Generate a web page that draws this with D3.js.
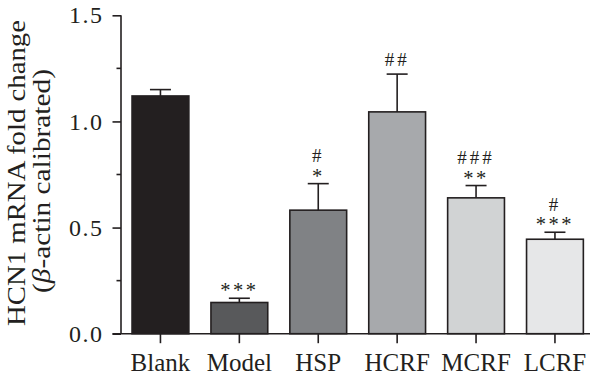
<!DOCTYPE html>
<html>
<head>
<meta charset="utf-8">
<script src="https://cdn.jsdelivr.net/npm/d3@7"></script>
<style>
  html, body { margin: 0; padding: 0; background: #fff; }
  svg { display: block; }
  text { font-family: "Liberation Serif", "Times New Roman", serif; fill: #231f20; }
</style>
</head>
<body>
<svg id="chart" width="600" height="384"></svg>
<script>
// ---- data ----
const categories = ["Blank", "Model", "HSP", "HCRF", "MCRF", "LCRF"];
const means      = [1.12, 0.147, 0.582, 1.045, 0.640, 0.445];
const errors     = [0.030, 0.020, 0.125, 0.178, 0.058, 0.033];
const stars      = ["", "***", "*", "", "**", "***"];
const hashes     = ["", "", "#", "##", "###", "#"];
const barColors  = ["#231f20", "#58595b", "#808285", "#a7a9ac", "#d1d3d4", "#e6e7e8"];
const yTicks     = [0, 0.5, 1.0, 1.5];
const yMinorTicks = [0.25, 0.75, 1.25];
const yLabel1 = "HCN1 mRNA fold change";

const svg = d3.select("#chart");
const ink = "#231f20";

const x = d3.scaleBand().domain(categories).range([121, 594.4]).paddingInner(0.28).paddingOuter(0.14);
const y = d3.scaleLinear().domain([0, 1.5]).range([333.7, 15.3]);
const cx = c => x(c) + x.bandwidth() / 2;

// bars
svg.append("g").selectAll("rect").data(categories).join("rect")
  .attr("x", d => x(d))
  .attr("y", (d, i) => y(means[i]))
  .attr("width", x.bandwidth())
  .attr("height", (d, i) => y(0) - y(means[i]))
  .attr("fill", (d, i) => barColors[i])
  .attr("stroke", ink)
  .attr("stroke-width", 1.6);

// error bars (upper only)
const eb = svg.append("g").attr("stroke", ink).attr("stroke-width", 1.6);
categories.forEach((c, i) => {
  const top = y(means[i] + errors[i]);
  eb.append("line").attr("x1", cx(c)).attr("x2", cx(c)).attr("y1", y(means[i])).attr("y2", top);
  eb.append("line").attr("x1", cx(c) - 10.5).attr("x2", cx(c) + 10.5).attr("y1", top).attr("y2", top);
});

// significance marks: one text per bar, hash line above star line
categories.forEach((c, i) => {
  if (!stars[i] && !hashes[i]) return;
  const top = y(means[i] + errors[i]);
  const t = svg.append("text").attr("text-anchor", "middle");
  if (hashes[i]) {
    const centre = stars[i] ? top - 28 : top - 14.5;
    t.append("tspan").attr("x", cx(c)).attr("y", centre + 6.5)
      .attr("font-size", 19).attr("letter-spacing", 3).text(hashes[i]);
  }
  if (stars[i]) {
    const centre = top - 10.5;
    t.append("tspan").attr("x", cx(c)).attr("y", centre + 9.6)
      .attr("font-size", 20.5).attr("letter-spacing", 2.5).text(stars[i]);
  }
});

// y axis
const yAxis = svg.append("g").attr("transform", "translate(121,0)")
  .call(d3.axisLeft(y).tickValues(yTicks).tickFormat(d3.format(".1f")).tickSize(8.5).tickPadding(9));
yAxis.select(".domain").attr("stroke", ink).attr("stroke-width", 1.6).attr("d", `M0,${y(0)}V${y(1.5)}`);
yAxis.selectAll(".tick line").attr("stroke", ink).attr("stroke-width", 1.6);
yAxis.selectAll(".tick text").attr("font-size", 24).attr("letter-spacing", 1.5).attr("fill", ink);
svg.append("g").attr("transform", "translate(121,0)")
  .selectAll("line").data(yMinorTicks).join("line")
  .attr("x1", -4.5).attr("x2", 0).attr("y1", d => y(d)).attr("y2", d => y(d))
  .attr("stroke", ink).attr("stroke-width", 1.6);

// x axis
const xAxis = svg.append("g").attr("transform", `translate(0,${y(0)})`)
  .call(d3.axisBottom(x).tickSize(9.5).tickPadding(10));
xAxis.select(".domain").attr("stroke", ink).attr("stroke-width", 1.6).attr("d", "M112.5,0H590");
xAxis.selectAll(".tick line").attr("stroke", ink).attr("stroke-width", 1.6);
xAxis.selectAll(".tick text").attr("font-size", 25).attr("fill", ink);

// y label
const yl = svg.append("g").attr("transform", "translate(0,173) rotate(-90)");
yl.append("text").attr("x", 0).attr("y", 25).attr("text-anchor", "middle")
  .attr("font-size", 25).attr("textLength", 306).attr("lengthAdjust", "spacingAndGlyphs")
  .text(yLabel1);
const l2 = yl.append("text").attr("x", -8).attr("y", 50).attr("text-anchor", "middle")
  .attr("font-size", 25).attr("textLength", 224).attr("lengthAdjust", "spacingAndGlyphs");
l2.append("tspan").text("(");
l2.append("tspan").attr("font-style", "italic").text("β");
l2.append("tspan").text("-actin calibrated)");
</script>
</body>
</html>
